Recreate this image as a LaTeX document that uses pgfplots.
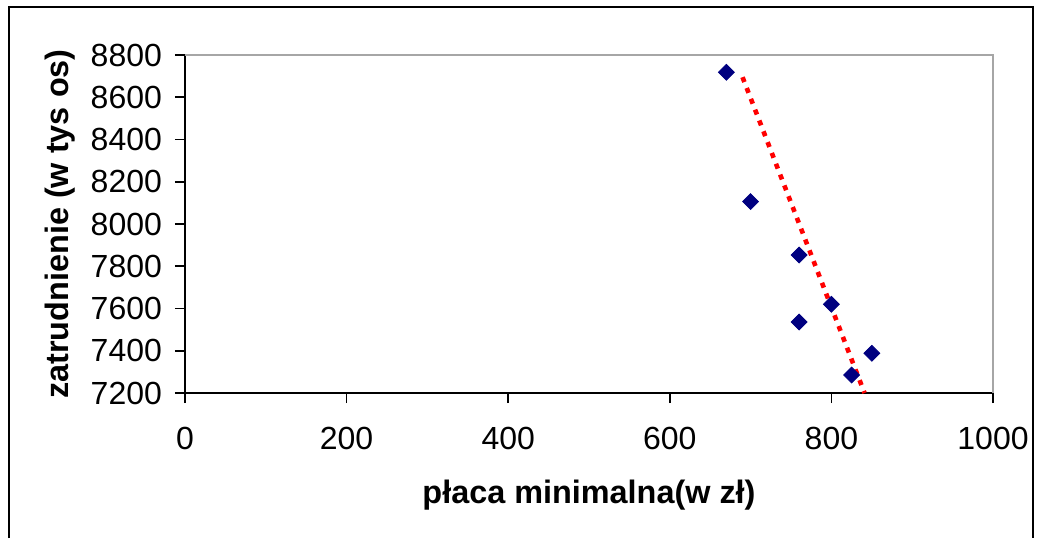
\documentclass[border=0pt]{standalone}
\usepackage{pgfplots}
\pgfplotsset{compat=1.18}
\usepackage{fontspec}
\setmainfont{Liberation Sans}
\definecolor{navyd}{RGB}{0,0,128}
\begin{document}
\begin{tikzpicture}[x=0.5pt,y=0.5pt]
\path[use as bounding box] (0,0) rectangle (1042,538);
\draw[line width=0.8pt] (9,0) -- (9,531) -- (1033,531) -- (1033,0);
\begin{axis}[
  at={(92.5pt,72.5pt)}, anchor=south west,
  width=404pt, height=169pt, scale only axis,
  xmin=0, xmax=1000, ymin=7200, ymax=8800,
  xtick={0,200,...,1000}, ytick={7200,7400,...,8800},
  axis x line*=bottom, axis y line*=left,
  axis line style={line width=0.8pt, black},
  tick style={line width=0.8pt, black},
  tick align=outside, major tick length=5pt,
  ticklabel style={font=\fontsize{16}{19}\selectfont},
  xticklabel style={yshift=-8.5pt},
  yticklabel style={xshift=-3pt},
  /pgf/number format/assume math mode=true,
  /pgf/number format/1000 sep={},
  xlabel={płaca minimalna(w zł)},
  ylabel={zatrudnienie (w tys os)},
  label style={font=\bfseries\fontsize{16.2}{19}\selectfont},
  xlabel style={at={(axis description cs:0.5,-0.3018)}, anchor=center},
  ylabel style={at={(axis description cs:-0.1547,0.5)}, anchor=center},
  clip=false,
]
\draw[gray!70, line width=1pt] (rel axis cs:0,1) -- (rel axis cs:1,1) -- (rel axis cs:1,0);
\addplot[only marks, mark=square*, mark size=2.8pt, mark options={rotate=45, fill=navyd, draw=navyd}]
  coordinates {(670,8718) (700,8106) (760,7853) (760,7536) (800,7620) (825,7285) (850,7388)};
\addplot[red, line width=2.3pt, dash pattern=on 2.6pt off 3.2pt]
  coordinates {(690,8695) (841,7200)};
\end{axis}
\end{tikzpicture}
\end{document}
